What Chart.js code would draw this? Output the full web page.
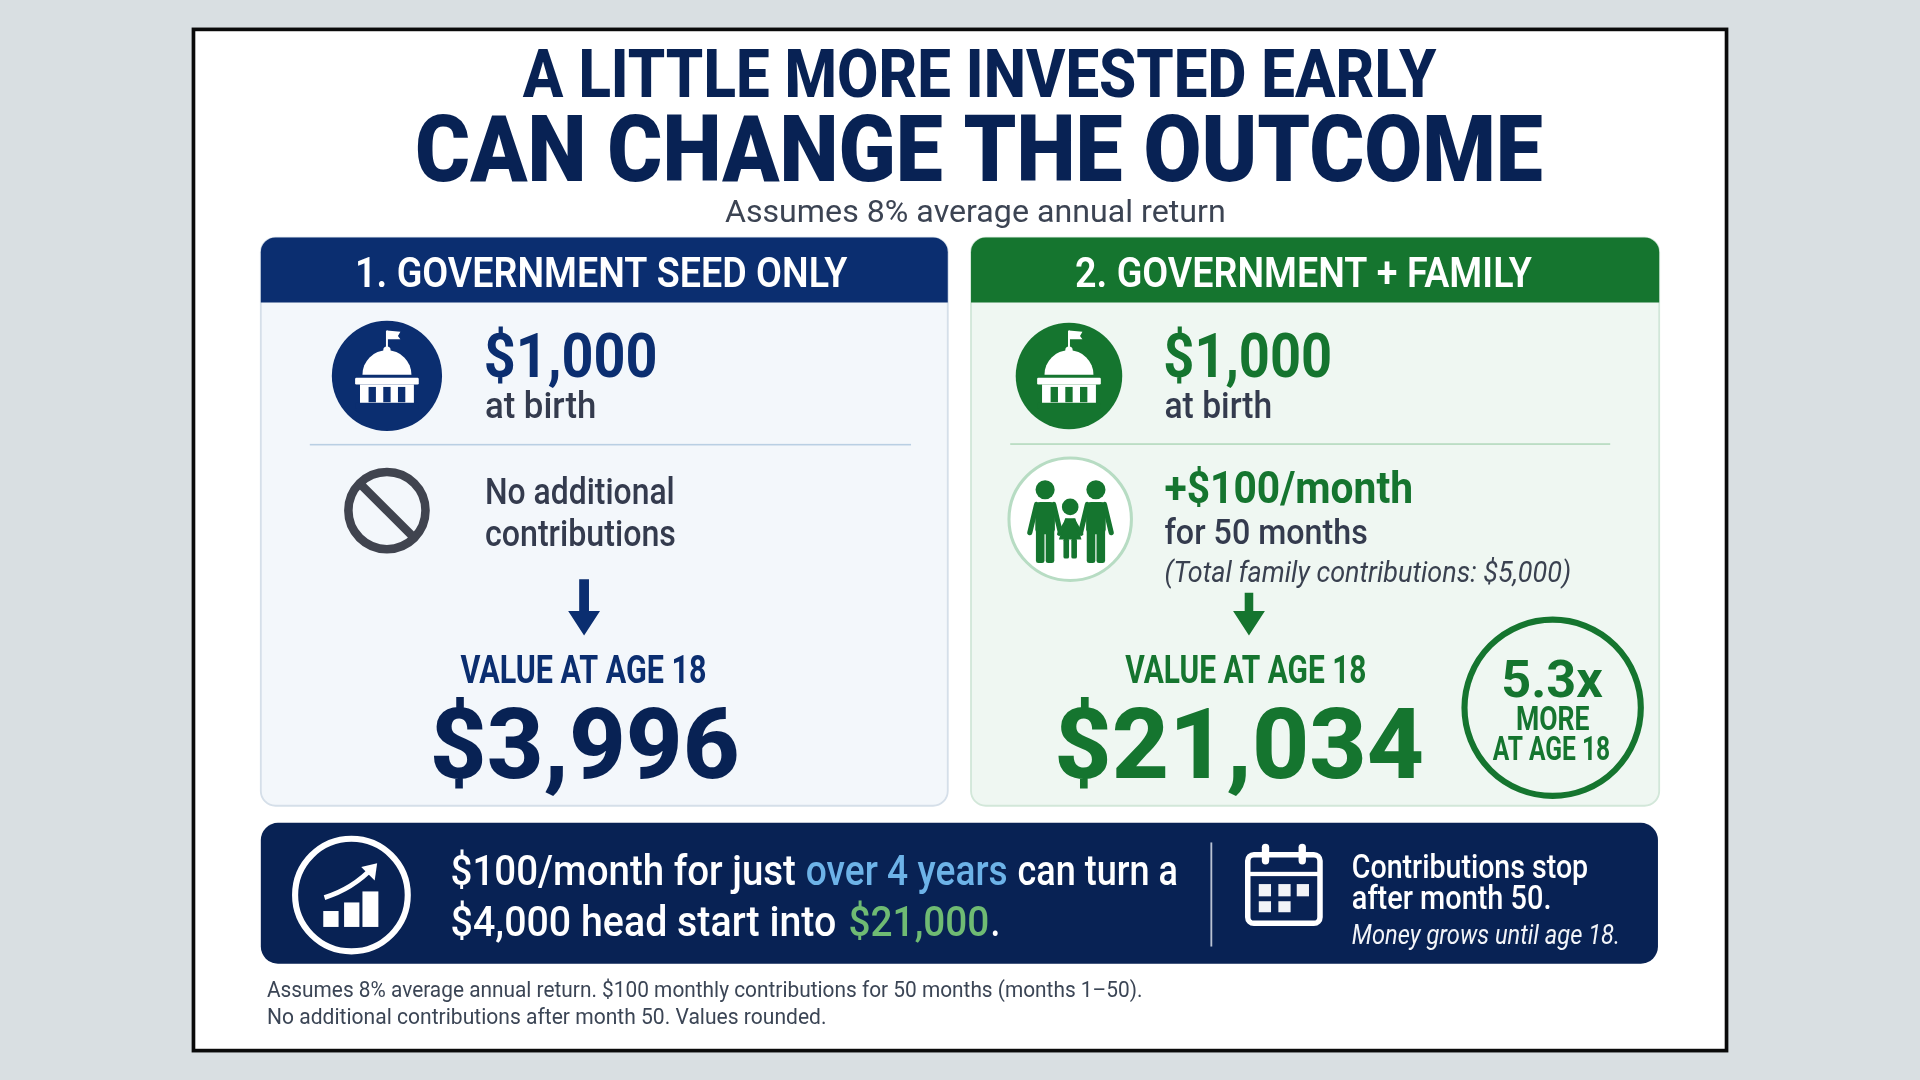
<!DOCTYPE html>
<html><head><meta charset="utf-8">
<style>html,body{margin:0;padding:0;background:#d9dfe2}canvas{display:block}</style>
<script src="https://cdn.jsdelivr.net/npm/chart.js@4"></script>
</head><body>
<div style="width:1920px;height:1080px"><canvas id="c" width="1920" height="1080"></canvas></div>
<script>
const scenarios = ['1. GOVERNMENT SEED ONLY', '2. GOVERNMENT + FAMILY'];
const valuesAtAge18 = [3996, 21034];
const seedAtBirth = [1000, 1000];
const titleLines = ['A LITTLE MORE INVESTED EARLY', 'CAN CHANGE THE OUTCOME'];
const subtitle = 'Assumes 8% average annual return';
const footnotes = ['Assumes 8% average annual return. $100 monthly contributions for 50 months (months 1\u201350).', 'No additional contributions after month 50. Values rounded.'];
const money = v => '$' + v.toLocaleString('en-US');

const NAVY='#082254', BLUE='#0b2e70', GREEN='#15752f', INK='#343b4e', WHITE='#ffffff';
const F='Roboto, "Liberation Sans", sans-serif';

const infographic = {
  id:'infographic',
  afterDraw(chart){
    const c=chart.ctx, k=1920/1568;
    const t=(s,x,b,w,size,wt,col,it)=>{
      c.save();
      c.font=(it?'italic ':'')+wt+' '+size+'px '+F;
      c.fillStyle=col; c.textAlign='left'; c.textBaseline='alphabetic';
      const m=c.measureText(s).width;
      c.translate(x,b); c.scale(w/m,1); c.fillText(s,0,0); c.restore();
    };
    const rr=(x,y,w,h,r)=>{c.beginPath();c.roundRect(x,y,w,h,r);};
    const disc=(x,y,r,col)=>{c.beginPath();c.arc(x,y,r,0,Math.PI*2);c.fillStyle=col;c.fill();};
    const ring=(x,y,r,lw,col)=>{c.beginPath();c.arc(x,y,r,0,Math.PI*2);c.lineWidth=lw;c.strokeStyle=col;c.stroke();};
    const box=(x,y,w,h,col)=>{c.fillStyle=col;c.fillRect(x,y,w,h);};
    const capitol=(x,y,bg)=>{
      box(x-.8,y-36,1.6,18,WHITE);
      c.fillStyle=WHITE;c.beginPath();c.moveTo(x,y-36);c.lineTo(x+11,y-35);c.lineTo(x+9,y-31.5);c.lineTo(x+11,y-29);c.lineTo(x,y-29);c.fill();
      c.beginPath();c.ellipse(x,y,20,20,0,Math.PI,0);c.fill();
      disc(x,y-20,3,WHITE);
      rr(x-26,y+2.5,52,5.5,1);c.fill();
      box(x-22,y+8,44,16,WHITE);
      for(const o of [-12,0,12]) box(x+o-3,y+10,6,12.5,bg);
      rr(x-26,y+23,52,5,1.5);c.fill();
    };
    const arrow=(x,y0,y1,hw,sw,col)=>{
      c.fillStyle=col;c.beginPath();
      const hy=y1-20;
      c.moveTo(x-sw/2,y0);c.lineTo(x+sw/2,y0);c.lineTo(x+sw/2,hy);c.lineTo(x+hw,hy);c.lineTo(x,y1);c.lineTo(x-hw,hy);c.lineTo(x-sw/2,hy);c.closePath();c.fill();
    };
    const person=(x,top,h,sc,girl)=>{
      disc(x,top,(girl?7.4:7.8)*sc,GREEN);
      c.fillStyle=GREEN;
      const st=top+10*sc, w=8*sc;
      if(girl){
        c.beginPath();c.moveTo(x-4.5*sc,st);c.lineTo(x+4.5*sc,st);c.lineTo(x+10*sc,st+19*sc);c.lineTo(x-10*sc,st+19*sc);c.closePath();c.fill();
        rr(x-6*sc,st+18*sc,5*sc,h-30*sc,1.5);c.fill();rr(x+1*sc,st+18*sc,5*sc,h-30*sc,1.5);c.fill();
      }else{
        rr(x-w,st,w*2,h*0.46,4);c.fill();
        rr(x-w+.5,st+h*0.4,w-1,h*0.58-10*sc+4,2);c.fill();
        rr(x+.5,st+h*0.4,w-1,h*0.58-10*sc+4,2);c.fill();
      }
      c.lineCap='round';c.lineWidth=(girl?3.4:4.2)*sc;c.strokeStyle=GREEN;
      const a=girl?10:12.5, d=girl?14:25;
      [-1,1].forEach(s=>{c.beginPath();c.moveTo(x+s*(girl?3:w-1)*sc,st+2);c.lineTo(x+s*a*sc,st+d*sc);c.stroke();});
      c.lineCap='butt';
    };

    c.save();
    c.scale(k,k);
    // page and frame
    box(0,0,1568,882,'#d9dfe2');
    box(158,24,1252,834,WHITE);
    c.lineWidth=3;c.strokeStyle='#0a0a0a';c.strokeRect(158,24,1252,834);

    // title
    t(titleLines[0],427,79,746,54,800,NAVY);
    t(titleLines[1],339,148,921,76,900,NAVY);
    t(subtitle,592,181,409,26,400,'#3c4453');

    // panels
    const panel=(x,w,head,fill,line)=>{
      rr(x,194,w,464,12);c.fillStyle=fill;c.fill();c.lineWidth=1.5;c.strokeStyle=line;c.stroke();
      rr(x,194,w,53,[12,12,0,0]);c.fillStyle=head;c.fill();
    };
    panel(213,561,BLUE,'#f3f7fb','#d5dfe9');
    panel(793,562,GREEN,'#eff7f2','#d2e7d9');
    t(scenarios[0],290,234,402,35,600,WHITE);
    t(scenarios[1],878,234,373,35,600,WHITE);

    // left panel
    disc(316,307,45,BLUE);capitol(316,306,BLUE);
    t(money(seedAtBirth[0]),395,308,142,50,700,BLUE);
    t('at birth',396,341.5,91,30,500,INK);
    box(253,362.5,491,1.3,'#b9cfe3');
    ring(316,417,31.5,7,'#40444f');
    c.beginPath();c.moveTo(294,395);c.lineTo(338,439);c.lineWidth=7;c.strokeStyle='#40444f';c.stroke();
    t('No additional',396,412,155,30,500,INK);
    t('contributions',396,446,156,30,500,INK);
    arrow(477,473,519,13,8,BLUE);
    t('VALUE AT AGE 18',376,558,201,31,700,BLUE);
    t(money(valuesAtAge18[0]),351,635,253,80,800,NAVY);

    // right panel
    disc(873,307,43.5,GREEN);capitol(873,306,GREEN);
    t(money(seedAtBirth[1]),950,308,138,50,700,GREEN);
    t('at birth',951,341.5,88,30,500,INK);
    box(825,362,490,1.3,'#b3d9bd');
    disc(874,424,50,WHITE);ring(874,424,50,2.5,'#b7dcc3');
    person(853.5,400,57,1,false);
    person(895,400,57,1,false);
    person(874,414,44,.92,true);
    t('+$100/month',951,411,203,36,700,GREEN);
    t('for 50 months',951,444,166,29,500,INK);
    t('(Total family contributions: $5,000)',951,475,332,24,400,'#3a4150',true);
    arrow(1020,484,519,13,7,GREEN);
    t('VALUE AT AGE 18',919,558,197,31,700,GREEN);
    t(money(valuesAtAge18[1]),861,635,302,80,800,GREEN);
    ring(1268,578,72,5,GREEN);
    t((valuesAtAge18[1]/valuesAtAge18[0]).toFixed(1)+'x',1226,569,83,42,700,GREEN);
    t('MORE',1238,596,60,27,700,GREEN);
    t('AT AGE 18',1219,621,96,27,700,GREEN);

    // banner
    rr(213,672,1141,115,14);c.fillStyle=NAVY;c.fill();
    ring(287,731,46,5,WHITE);
    box(264,744,12.5,13,WHITE);box(281,737,12.5,20,WHITE);box(296,728,13,29,WHITE);
    c.beginPath();c.moveTo(265,733);c.quadraticCurveTo(288,726,305,708);c.lineWidth=4;c.strokeStyle=WHITE;c.stroke();
    c.fillStyle=WHITE;c.beginPath();c.moveTo(308,705);c.lineTo(295,708);c.lineTo(306,719);c.closePath();c.fill();
    t('$100/month for just',368,723,282,35,500,WHITE);
    t('over 4 years',658,723,165,35,500,'#6db3e8');
    t('can turn a',831,723,131,35,500,WHITE);
    t('$4,000 head start into',368,764,315,35,500,WHITE);
    t('$21,000',693,764,115,35,500,'#6fbb73');
    t('.',809,764,8,35,500,WHITE);
    box(988.5,688,1.5,85,'#b9c3d3');
    // calendar
    rr(1019,698,59,56,5);c.lineWidth=4.5;c.strokeStyle=WHITE;c.stroke();
    box(1019,712,59,3.5,WHITE);
    rr(1030.5,689,6,17,3);c.fillStyle=WHITE;c.fill();
    rr(1060.5,689,6,17,3);c.fill();
    for(const x of [1028,1044,1059]) box(x,722,10,10,'#f1f3f7');
    for(const x of [1028,1044]) box(x,736,10,9,'#f1f3f7');
    t('Contributions stop',1104,717,193,27,500,WHITE);
    t('after month 50.',1104,742,163,27,500,WHITE);
    t('Money grows until age 18.',1104,771,219,22,400,'#f2f4f8',true);

    // footnotes
    t(footnotes[0],218,814,715,18,400,'#3b4555');
    t(footnotes[1],218,836,457,18,400,'#3b4555');
    c.restore();
  }
};

new Chart(document.getElementById('c'),{
  type:'bar',
  data:{labels:scenarios,datasets:[{label:'Value at age 18',data:valuesAtAge18,backgroundColor:'rgba(0,0,0,0)'}]},
  options:{
    responsive:false,animation:false,devicePixelRatio:1,
    plugins:{legend:{display:false},tooltip:{enabled:false},title:{display:false}},
    scales:{x:{display:false},y:{display:false}}
  },
  plugins:[infographic]
});
</script>
</body></html>
